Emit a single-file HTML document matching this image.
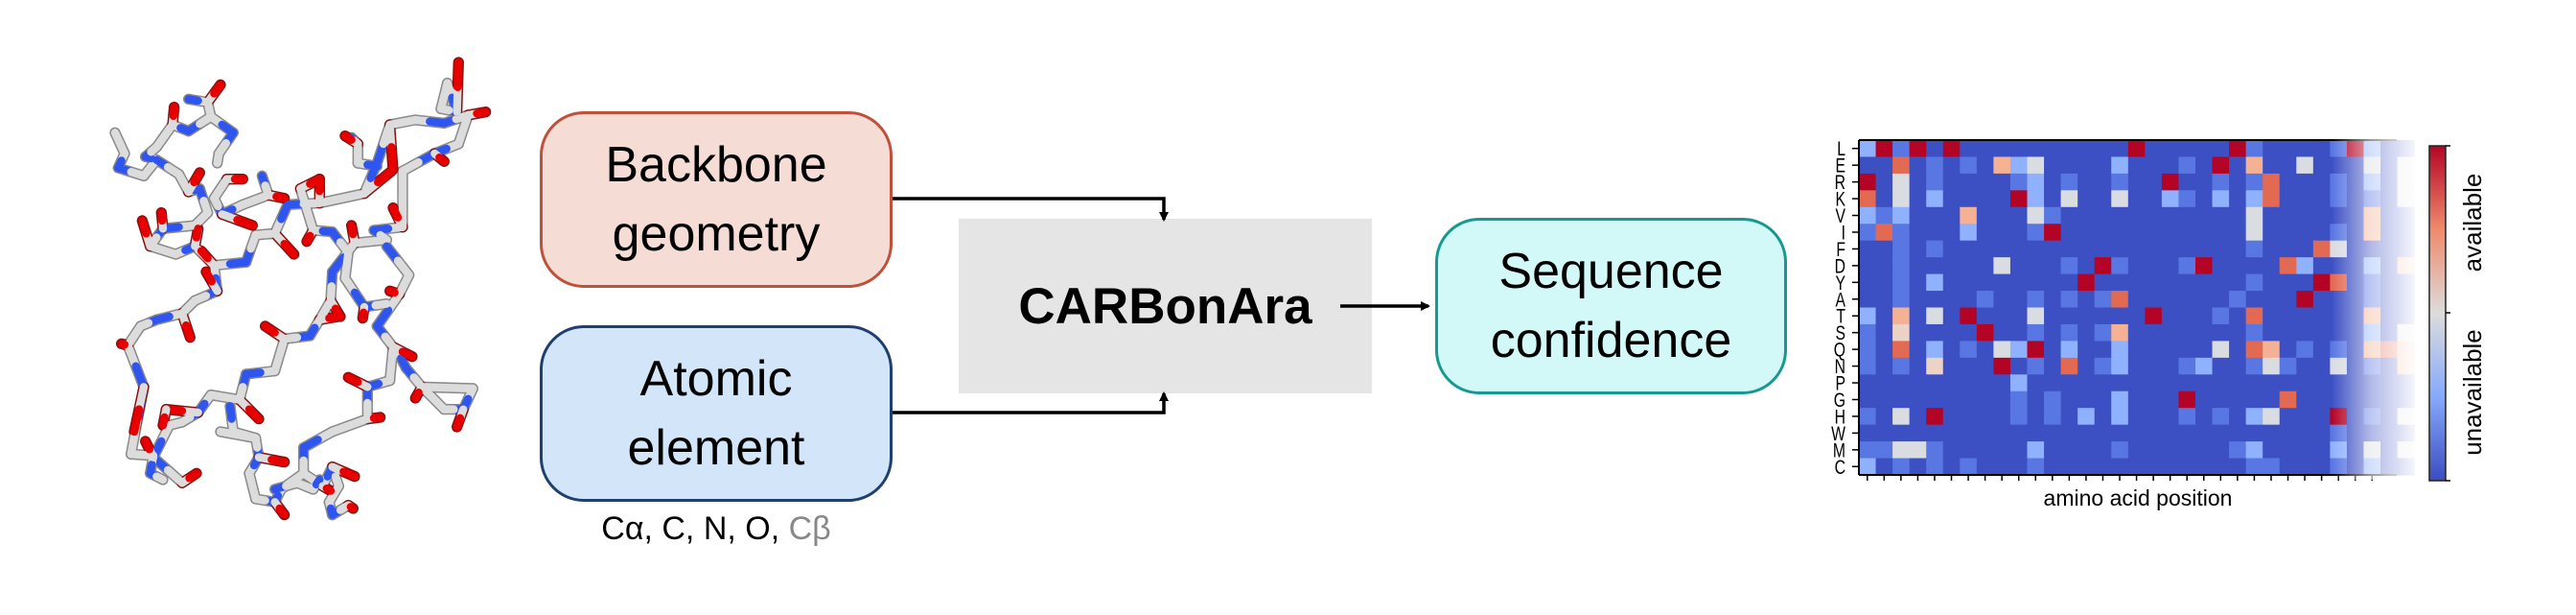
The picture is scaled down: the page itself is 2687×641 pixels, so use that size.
<!DOCTYPE html>
<html><head><meta charset="utf-8"><style>
html,body{margin:0;padding:0;background:#fff;}
body{width:2687px;height:641px;position:relative;overflow:hidden;font-family:"Liberation Sans",sans-serif;}
.box{position:absolute;box-sizing:border-box;border-width:3px;border-style:solid;border-radius:46px;display:flex;align-items:center;justify-content:center;text-align:center;font-size:52px;line-height:72px;color:#000;}
</style></head><body>
<svg id="prot" width="2687" height="641" style="position:absolute;left:0;top:0"></svg>

<div class="box" style="left:563px;top:116px;width:368px;height:184px;background:#f5ddd6;border-color:#c0503a;">Backbone<br>geometry</div>
<div class="box" style="left:563px;top:339px;width:368px;height:184px;background:#d3e5f8;border-color:#1f3f6e;">Atomic<br>element</div>
<div style="position:absolute;left:563px;top:532px;width:368px;text-align:center;font-size:34px;font-family:'Liberation Sans','DejaVu Sans',sans-serif;">Cα, C, N, O, <span style="color:#888">Cβ</span></div>
<div style="position:absolute;left:1000px;top:228px;width:431px;height:182px;background:#e5e5e5;display:flex;align-items:center;justify-content:center;font-weight:bold;font-size:53px;">CARBonAra</div>
<div class="box" style="left:1497px;top:227px;width:367px;height:184px;background:#d2f9f8;border-color:#17998f;">Sequence<br>confidence</div>

<svg width="2687" height="641" style="position:absolute;left:0;top:0">
<defs><marker id="ah" markerWidth="10" markerHeight="10" refX="8" refY="5" orient="auto" markerUnits="userSpaceOnUse"><path d="M0,0 L10,5 L0,10 z" fill="#000"/></marker></defs>
<g stroke="#000" stroke-width="3.5" fill="none">
<polyline points="931,207 1214,207 1214,229" marker-end="url(#ah)"/>
<polyline points="931,430 1214,430 1214,410" marker-end="url(#ah)"/>
<line x1="1398" y1="319" x2="1490" y2="319" marker-end="url(#ah)"/>
</g>
</svg>

<svg id="hm" width="2687" height="641" style="position:absolute;left:0;top:0">
<defs>
<linearGradient id="fade" x1="0" x2="1" y1="0" y2="0">
<stop offset="0" stop-color="#fff" stop-opacity="0"/>
<stop offset="0.45" stop-color="#fff" stop-opacity="0.6"/>
<stop offset="1" stop-color="#fff" stop-opacity="0.97"/>
</linearGradient>
<linearGradient id="cbar" x1="0" x2="0" y1="0" y2="1">
<stop offset="0" stop-color="#b40426"/>
<stop offset="0.25" stop-color="#f08a6c"/>
<stop offset="0.5" stop-color="#dddcdc"/>
<stop offset="0.75" stop-color="#86a9fc"/>
<stop offset="1" stop-color="#3b4cc0"/>
</linearGradient>
</defs>
<g id="cells"></g>
<g id="axes" stroke="#000" stroke-width="2" fill="none"></g>
<rect x="2432" y="140" width="90" height="360" fill="url(#fade)"/>
<rect x="2534" y="152" width="17" height="349" fill="url(#cbar)" stroke="#222" stroke-width="1.5"/>
<g stroke="#000" stroke-width="1.5"><line x1="2551" y1="152" x2="2556" y2="152"/><line x1="2551" y1="326" x2="2556" y2="326"/><line x1="2551" y1="501" x2="2556" y2="501"/></g>
<text x="2588" y="232" font-size="26" font-family="Liberation Sans" text-anchor="middle" transform="rotate(-90 2588 232)">available</text>
<text x="2588" y="409" font-size="26" font-family="Liberation Sans" text-anchor="middle" transform="rotate(-90 2588 409)">unavailable</text>
<text x="2230" y="527" font-size="23" font-family="Liberation Sans" text-anchor="middle">amino acid position</text>
<g id="labels" font-family="Liberation Sans" font-size="21"></g>
</svg>

<script>
(function(){
var NS="http://www.w3.org/2000/svg";
function el(p,t,a){var e=document.createElementNS(NS,t);for(var k in a)e.setAttribute(k,a[k]);p.appendChild(e);return e;}
var rows=["lrmrbrbbbbbbbbbbrbbbbbrmbbbbmr","bbobmbmbplwbbbblbbbmbrbpbbwbbb","rbwbmbbbbmlbmbbmbbrbbmbmobbbmb","obwblbbbbrlbwbbwbblmblblobbbmb","lmlbbbpbbbwmbbbbbbbbbbbwbbbbbb","mombbblbbbmrbbbbbbbbbbbwbbbbmb","bbmbmbbbbbbbbbbbbbbbbbbmbbbowb","bbmbbbbbwbbbmbrmbbbmrbbbbolbbb","bbmblbbbbbbbbrbbbbbbbbbmbbbrob","bbmbbbbmbbmbmbmobbbbbbmbbbrbbb","lbpbwbrbbbwbbbbbbrbbbmbobbbbbb","mbqbbbbrbbmbmbmpbbbbbbbmbbbbbb","mboblbmbwlrblbblbbbbbwbopbmbmb","mbmbqbbbrbmbobmlbbbmlbbmwmbbwb","bbbbbbbbblbbbbbbbbbbbbbbbbbbbb","bbbbbbbbbmbmbbblbbbrbbbbbobbbb","mbwbrbbbbmbmblblbbbmbmblwbbbrb","bbbbbbbbbbbbbbbbbbbbbbbbbbbbmb","mmwwmbbbbblbbbbmbbbbbbmlbbbblb","lbmbmbmbbbmbbbbbbbbbbbbmmbbbmb"];
var extra=["lbb","wbw","lbw","mbw","pbb","pbb","bbb","lbp","mbb","mbb","pbb","lbw","pop","mbp","bbb","bbb","mbw","bbb","wbw","lbb"];
var col={b:"#3d50c3",m:"#5977e3",l:"#8fb1fe",w:"#d9dce1",q:"#ecd3c5",p:"#f4b193",o:"#e26952",r:"#b40426"};
var g=document.getElementById("cells");
var x0=1939,y0=146,cw=17.55,ch=17.45;
for(var i=0;i<20;i++){var s=rows[i]+extra[i];for(var j=0;j<33;j++){el(g,"rect",{x:(x0+j*cw).toFixed(2),y:(y0+i*ch).toFixed(2),width:(cw+0.6).toFixed(2),height:(ch+0.6).toFixed(2),fill:col[s[j]]});}}
var ax=document.getElementById("axes");
el(ax,"line",{x1:x0,y1:y0,x2:x0,y2:y0+20*ch});
el(ax,"line",{x1:x0,y1:y0+20*ch,x2:2500,y2:y0+20*ch});
el(ax,"line",{x1:x0,y1:y0,x2:2500,y2:y0});
for(var j=0;j<31;j++){var x=x0+j*cw+cw/2;el(ax,"line",{x1:x,y1:y0+20*ch,x2:x,y2:y0+20*ch+6,"stroke-width":1.5});}
var lab="LERKVIFDYATSQNPGHWMC",lg=document.getElementById("labels");
for(var i=0;i<20;i++){var y=y0+i*ch+ch/2;el(ax,"line",{x1:x0-7,y1:y,x2:x0,y2:y,"stroke-width":1.5});
var t=el(lg,"text",{x:0,y:0,"text-anchor":"end",transform:"translate(1925,"+(y+7.5)+") scale(0.75,1)"});t.textContent=lab[i];}
var P=document.getElementById("prot");
var G=el(P,"g",{transform:"translate(80,50) scale(0.3333)","stroke-linecap":"round","stroke-linejoin":"round",fill:"none"});
var chains=[
[[120,265],[150,330],[130,375],[210,400],[250,350],[215,340],[250,310],[300,240],[350,260],[420,215],[410,170],[350,160]],
[[420,215],[490,265],[445,330],[440,360]],
[[250,350],[320,395],[350,450],[385,440],[410,515],[370,555],[270,565],[230,620],[310,645],[370,620],[380,570]],
[[380,630],[430,680],[530,670],[560,585],[620,580],[660,490],[760,485],[900,455],[940,360],[980,240],[1060,225],[1150,235],[1225,210],[1195,300],[1120,330],[1020,385],[1020,560],[930,570],[970,600],[870,610],[800,700],[795,790],[760,850],[730,900],[650,910],[620,1010],[530,1020],[510,1100],[420,1085],[380,1140],[330,1170],[290,1180],[240,1280],[330,1360]],
[[430,680],[440,760],[370,790],[330,830],[250,850],[200,870],[160,930],[210,1060],[170,1270],[240,1275],[230,1330],[270,1350]],
[[970,620],[1040,710],[1010,770],[940,870],[990,935],[980,1040],[910,1060],[910,1160],[800,1200],[710,1250],[710,1330],[770,1370]],
[[710,1330],[640,1380],[620,1420],[560,1410],[540,1330],[570,1280],[560,1220],[490,1200],[480,1120]],
[[1000,940],[1030,1000],[1080,1060],[1240,1065],[1210,1130],[1150,1130],[1080,1060]],
[[580,400],[600,460],[520,490],[455,520],[430,470],[470,410]],
[[700,440],[740,570],[800,575],[850,640],[840,720],[900,810],[970,800]],
[[1160,110],[1190,200],[1140,190],[1160,110]],
[[860,280],[880,300],[880,360],[940,370]],
[[450,1200],[560,1220]],
[[770,1370],[800,1310],[820,1370],[790,1420],[800,1460],[850,1430]],
[[620,1380],[690,1360],[740,1380],[760,1350]]
];
var stubs=[[300,240,305,185],[410,170,450,115],[350,450,385,390],[270,565,265,515],[230,620,205,540],[620,580,680,645],[760,485,760,410],[900,455,985,385],[1225,210,1280,200],[1190,200,1195,45],[1120,330,1150,355],[870,610,860,555],[795,790,825,840],[650,910,590,870],[510,1100,570,1160],[380,1140,280,1130],[440,760,405,700],[330,830,355,905],[160,930,140,925],[210,1060,180,1200],[600,460,650,470],[470,410,520,410],[455,520,550,555],[1010,770,980,760],[990,935,1050,965],[910,1060,850,1030],[910,1160,950,1155],[770,1370,795,1385],[620,1420,650,1460],[570,1280,650,1295],[330,1360,375,1330],[240,1280,215,1230],[1210,1130,1190,1185],[1080,1060,1060,1095],[850,1430,865,1440],[800,1310,870,1340],[880,300,840,275],[740,570,720,605],[900,810,895,845],[430,680,390,635],[280,1130,270,1180],[370,620,380,565],[700,440,760,410],[760,850,820,840],[1020,560,990,500],[980,240,990,380]];
function seg(g,a,b,c,w){el(g,"line",{x1:a[0],y1:a[1],x2:b[0],y2:b[1],stroke:c,"stroke-width":w});}
var Go=el(G,"g",{}),Gi=el(G,"g",{});
chains.forEach(function(ch,ci){for(var k=0;k<ch.length-1;k++){var a=ch[k],b=ch[k+1];var m=[(a[0]+b[0])/2,(a[1]+b[1])/2];
seg(Go,a,b,"#8a8a8a",34);
var ca=((k+ci)%3==2)?"#2f55f0":"#dcdcdc",cb=((k+1+ci)%3==2)?"#2f55f0":"#dcdcdc";
seg(Gi,a,m,ca,25);seg(Gi,m,b,cb,25);}});
stubs.forEach(function(s){var a=[s[0],s[1]],b=[s[2],s[3]],m=[(a[0]+b[0])/2,(a[1]+b[1])/2];
seg(Go,a,b,"#8a1010",34);seg(Gi,a,m,"#dcdcdc",25);seg(Gi,m,b,"#e80000",25);});
})();
</script>
</body></html>
